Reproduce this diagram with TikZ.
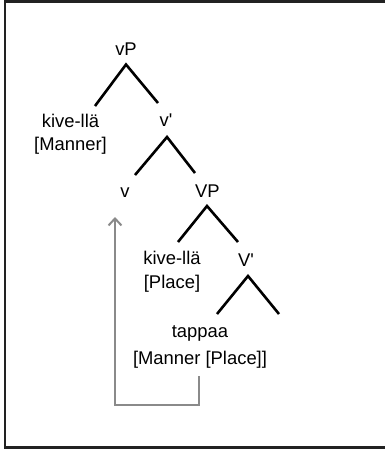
\documentclass[tikz,border=0pt]{standalone}
\usepackage{fontspec}
\setmainfont{Liberation Sans}[Ligatures=TeXOff]
\usetikzlibrary{arrows.meta}
\definecolor{movegray}{HTML}{8A8A8A}
\definecolor{framecol}{HTML}{222222}
\begin{document}
\begin{tikzpicture}[x=1pt,y=-1pt,
  lbl/.style={inner sep=0pt, anchor=base, font=\fontsize{18.4}{23}\selectfont},
  branch/.style={line width=2.6pt, line join=miter, line cap=butt},
  move/.style={movegray, line width=2pt, -{Straight Barb[length=7pt,width=13pt,line width=2pt]}}]
\useasboundingbox (0,0) rectangle (384,451);
\draw[framecol, line width=2.4pt] (5,1.5) rectangle (400,447.5);

% labels
\node[lbl] (vP) at (126,55.7) {vP};
\node[lbl] (spec1) at (70.5,127.7) {\begin{tabular}[t]{@{}c@{}}kive-llä\\\relax[Manner]\end{tabular}};
\node[lbl] (vbar) at (166,126) {v'};
\node[lbl] (v) at (125,197.3) {v};
\node[lbl] (VP) at (207.5,197.3) {VP};
\node[lbl] (spec2) at (172,264) {\begin{tabular}[t]{@{}c@{}}kive-llä\\[1pt]\relax[Place]\end{tabular}};
\node[lbl] (Vbar) at (246,266.7) {V'};
\node[lbl] (V) at (200,337.7) {\begin{tabular}[t]{@{}c@{}}tappaa\\[4pt]\relax[Manner [Place]]\end{tabular}};

% branch points
\coordinate (a1) at (126,64.5);  \coordinate (l1) at (95,106);  \coordinate (r1) at (158,103);
\coordinate (a2) at (167,137);   \coordinate (l2) at (135,175); \coordinate (r2) at (195,173);
\coordinate (a3) at (207,206);   \coordinate (l3) at (178,242); \coordinate (r3) at (238,242);
\coordinate (a4) at (248,276);   \coordinate (l4) at (217,314); \coordinate (r4) at (279,314);

\draw[branch] (l1) -- (a1) -- (r1);
\draw[branch] (l2) -- (a2) -- (r2);
\draw[branch] (l3) -- (a3) -- (r3);
\draw[branch] (l4) -- (a4) -- (r4);

% head movement
\coordinate (mstart) at (199,376);
\coordinate (mend) at (115,217);
\draw[move] (mstart) -- (199,405) -- (115,405) -- (mend);
\end{tikzpicture}
\end{document}
